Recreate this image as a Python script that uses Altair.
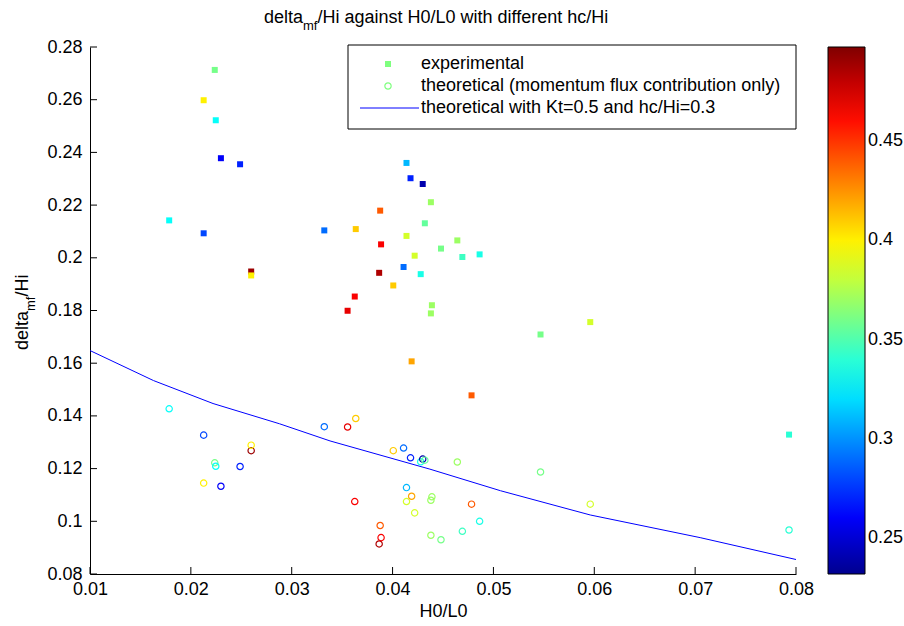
import altair as alt
import pandas as pd

# ---- data -------------------------------------------------------------
# H0/L0 for each test (shared by measured and predicted points)
h0_l0 = [0.01785, 0.02127, 0.02127, 0.02237, 0.02247, 0.02298, 0.02488, 0.02598, 0.02598,
         0.03323, 0.03554, 0.03625, 0.03635, 0.03867, 0.03877, 0.03886, 0.04007, 0.04109,
         0.04138, 0.04138, 0.04178, 0.04189, 0.04219, 0.04279, 0.04299, 0.04320, 0.04380,
         0.04390, 0.04380, 0.04480, 0.04642, 0.04692, 0.04783, 0.04863, 0.05467, 0.05960, 0.07931]
# relative crest height hc/Hi (colour)
hc_hi = [0.33, 0.40, 0.28, 0.36, 0.33, 0.26, 0.27, 0.49, 0.40,
         0.29, 0.47, 0.465, 0.41, 0.485, 0.44, 0.465, 0.41, 0.29,
         0.31, 0.385, 0.27, 0.42, 0.385, 0.335, 0.24, 0.355, 0.37,
         0.37, 0.37, 0.36, 0.37, 0.345, 0.44, 0.335, 0.36, 0.385, 0.34]
# measured delta_mf/Hi
delta_exp = [0.2142, 0.2598, 0.2093, 0.2713, 0.2522, 0.2378, 0.2355, 0.1948, 0.1933,
             0.2104, 0.1799, 0.1853, 0.2109, 0.1943, 0.2179, 0.2051, 0.1895, 0.1965,
             0.2360, 0.2083, 0.2302, 0.1607, 0.2008, 0.1938, 0.2280, 0.2131, 0.2211,
             0.1820, 0.1789, 0.2035, 0.2066, 0.2003, 0.1478, 0.2013, 0.1709, 0.1756, 0.1329]
# predicted delta_mf/Hi (momentum flux contribution only)
delta_theo = [0.1427, 0.1145, 0.1327, 0.1222, 0.1209, 0.1133, 0.1208, 0.1268, 0.1289,
              0.1359, 0.1358, 0.1075, 0.1390, 0.0914, 0.0984, 0.0938, 0.1268, 0.1278,
              0.1128, 0.1075, 0.1241, 0.1095, 0.1032, 0.1226, 0.1236, 0.1232, 0.0947,
              0.1093, 0.1080, 0.0930, 0.1225, 0.0962, 0.1065, 0.1000, 0.1187, 0.1065, 0.0967]
# theoretical curve, Kt=0.5 and hc/Hi=0.3
curve_x = [0.0100, 0.0163, 0.0222, 0.0288, 0.0338, 0.0437, 0.0507, 0.0596, 0.0705, 0.0800]
curve_y = [0.1648, 0.1534, 0.1447, 0.1370, 0.1305, 0.1198, 0.1116, 0.1024, 0.0938, 0.0855]

x_ticks = [0.01, 0.02, 0.03, 0.04, 0.05, 0.06, 0.07, 0.08]
y_ticks = [0.08, 0.10, 0.12, 0.14, 0.16, 0.18, 0.20, 0.22, 0.24, 0.26, 0.28]
cbar_ticks = [0.25, 0.30, 0.35, 0.40, 0.45]
cbar_limits = [0.2318, 0.4975]

legend_labels = ["experimental",
                 "theoretical (momentum flux contribution only)",
                 "theoretical with Kt=0.5 and hc/Hi=0.3"]

# ---- scales -------------------------------------------------------------
FONT = "Liberation Sans"
W, H = 706, 527
CB_X, CB_W = 738, 37          # colour bar offset from the plot and its thickness

lo, hi = cbar_limits
jet_pos = [0.0, 0.111, 0.365, 0.619, 0.873, 1.0]
jet_col = ["#00008F", "#0000FF", "#00FFFF", "#FFFF00", "#FF0000", "#800000"]
jet_domain = [lo + p * (hi - lo) for p in jet_pos]


def jet():
    return alt.Scale(domain=jet_domain, range=jet_col, interpolate="rgb")


xs = alt.Scale(domain=[0.01, 0.08], nice=False, zero=False)
ys = alt.Scale(domain=[0.08, 0.28], nice=False, zero=False)

df = pd.DataFrame({"x": h0_l0, "hc": hc_hi, "exp": delta_exp, "theo": delta_theo})
curve = pd.DataFrame({"x": curve_x, "y": curve_y})
one = pd.DataFrame({"k": [0]})

cbar = alt.Legend(type="gradient", orient="none", legendX=CB_X, legendY=0,
                  direction="vertical", gradientLength=H, gradientThickness=CB_W,
                  gradientStrokeColor="black", gradientStrokeWidth=1,
                  values=cbar_ticks, format=".2~f", labelFont=FONT,
                  labelFontSize=18, labelColor="black", labelOffset=3,
                  padding=0)

x_enc = alt.X("x:Q", scale=xs,
              axis=alt.Axis(values=x_ticks, format=".2~f", title="H0/L0",
                            labelPadding=6, titlePadding=4, labelFlush=False))
y_axis = alt.Axis(values=y_ticks, format=".2~f", title=None, labelPadding=8,
                  labelFlush=False)

squares = alt.Chart(df).mark_square(size=36, opacity=1).encode(
    x=x_enc, y=alt.Y("exp:Q", scale=ys, axis=y_axis),
    color=alt.Color("hc:Q", scale=jet(), title=None, legend=cbar))

circles = alt.Chart(df).mark_point(shape="circle", filled=False, size=40,
                                   strokeWidth=1.2, opacity=1).encode(
    x=alt.X("x:Q", scale=xs), y=alt.Y("theo:Q", scale=ys),
    stroke=alt.Stroke("hc:Q", scale=jet(), legend=None))

line = alt.Chart(curve).mark_line(color="#0000FF", strokeWidth=1).encode(
    x=alt.X("x:Q", scale=xs), y=alt.Y("y:Q", scale=ys))

# inward tick marks on both axes
xt = alt.Chart(pd.DataFrame({"t": x_ticks})).mark_rule(color="black").encode(
    x=alt.X("t:Q", scale=xs), y=alt.value(H), y2=alt.value(H - 7))
yt = alt.Chart(pd.DataFrame({"t": y_ticks})).mark_rule(color="black").encode(
    y=alt.Y("t:Q", scale=ys), x=alt.value(0), x2=alt.value(7))

# small tick marks on both edges of the colour bar
cb_base = alt.Chart(pd.DataFrame({"t": cbar_ticks})).transform_calculate(
    py=f"{H} * ({hi} - datum.t) / ({hi} - {lo})")
cb_left = cb_base.mark_rule(color="black").encode(
    y=alt.Y("py:Q", scale=None), x=alt.value(CB_X), x2=alt.value(CB_X + 5))
cb_right = cb_base.mark_rule(color="black").encode(
    y=alt.Y("py:Q", scale=None), x=alt.value(CB_X + CB_W - 5), x2=alt.value(CB_X + CB_W))

# legend box
box = alt.Chart(one).mark_rect(fill="white", stroke="black", strokeWidth=1).encode(
    x=alt.value(258), x2=alt.value(706), y=alt.value(-2), y2=alt.value(82))
leg_sq = alt.Chart(one).mark_square(size=36, opacity=1, color="#7FFF7F").encode(
    x=alt.value(298), y=alt.value(17))
leg_ci = alt.Chart(one).mark_point(shape="circle", filled=False, size=40,
                                   strokeWidth=1.2, opacity=1, color="#7FFF7F").encode(
    x=alt.value(298), y=alt.value(39))
leg_ln = alt.Chart(one).mark_rule(color="#0000FF", strokeWidth=1).encode(
    x=alt.value(270), x2=alt.value(329), y=alt.value(61))
leg_txt = [
    alt.Chart(one).mark_text(align="left", baseline="middle", font=FONT,
                             fontSize=18, color="black").encode(
        x=alt.value(331), y=alt.value(17 + 22 * i), text=alt.value(lbl))
    for i, lbl in enumerate(legend_labels)
]


def txt(s, x, y, size=18, angle=0):
    return alt.Chart(one).mark_text(align="left", baseline="middle", font=FONT,
                                    fontSize=size, color="black", angle=angle).encode(
        x=alt.value(x), y=alt.value(y), text=alt.value(s))


# title with subscript
t0 = 174
title = [txt("delta", t0, -29), txt("mf", t0 + 39, -21, 13),
         txt("/Hi against H0/L0 with different hc/Hi", t0 + 53.5, -29)]

# rotated y-axis label with subscript
yl0 = 303
ylabel = [txt("delta", -67, yl0, angle=270), txt("mf", -59, yl0 - 39, 13, angle=270),
          txt("/Hi", -67, yl0 - 53.5, angle=270)]

chart = alt.layer(
    line, circles, squares, xt, yt, box, leg_sq, leg_ci, leg_ln, *leg_txt, *title, *ylabel,
    cb_left, cb_right,
).resolve_scale(color="independent", stroke="independent").properties(
    width=W, height=H, background="white",
    padding={"left": 90, "top": 47, "right": 904 - 90 - W, "bottom": 626 - 47 - H},
    autosize=alt.AutoSizeParams(type="none"),
).configure_view(stroke=None).configure_axis(
    labelFont=FONT, labelFontSize=18, labelColor="black",
    titleFont=FONT, titleFontSize=18, titleFontWeight="normal", titleColor="black",
    domainColor="black", domainWidth=1, ticks=False, grid=False,
)

chart.save("out.html", embed_options={"renderer": "svg", "actions": False})
